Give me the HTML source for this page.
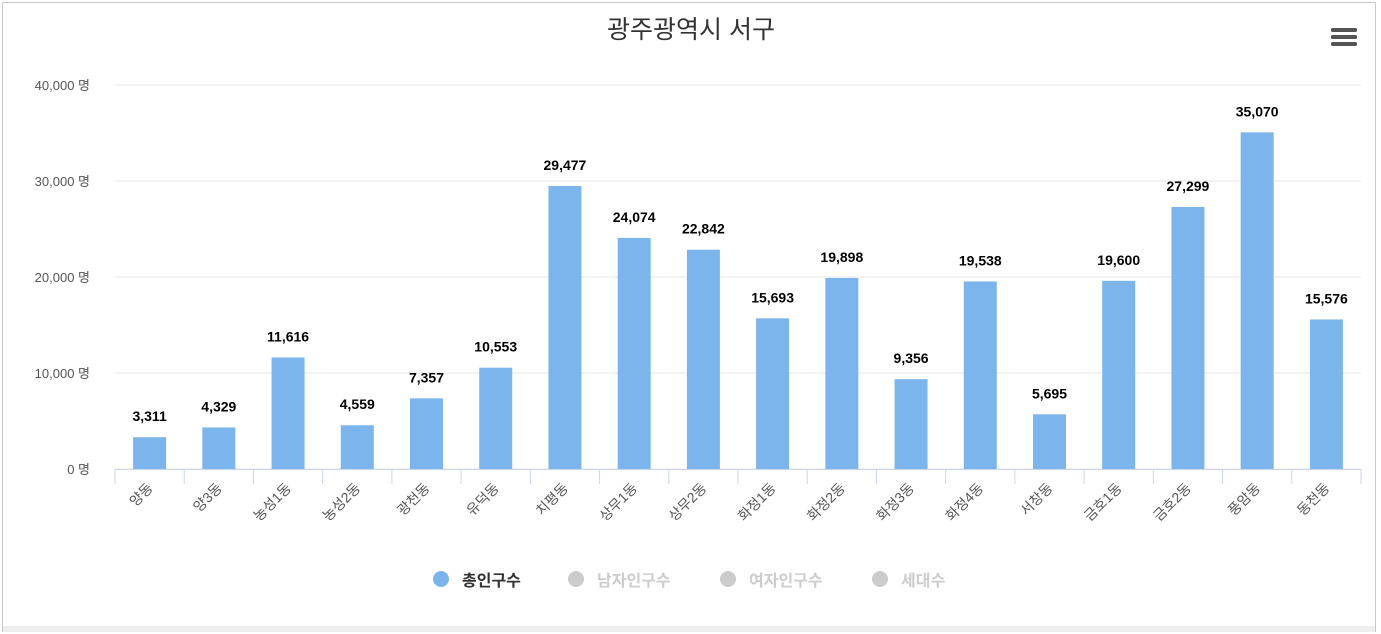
<!DOCTYPE html>
<html><head><meta charset="utf-8"><style>
body{margin:0;width:1381px;height:634px;background:#fff;overflow:hidden;font-family:"Liberation Sans","Noto Sans CJK KR",sans-serif;}
#frame{position:absolute;left:2px;top:2px;width:1374px;height:630px;border:1px solid #c8c8c8;box-sizing:border-box;}
#strip{position:absolute;left:3px;top:626px;width:1372px;height:6px;background:#eee;}
</style></head><body>
<div id="frame"></div>
<div id="strip"></div>
<svg id="chart" width="1381" height="634" style="position:absolute;left:0;top:0" font-family="Liberation Sans, Noto Sans CJK KR, sans-serif">
<text x="691" y="38" text-anchor="middle" font-size="25" fill="#333">광주광역시 서구</text>
<g>
<rect x="1331" y="28" width="26" height="4" rx="1.5" fill="#555"/><rect x="1331" y="35" width="26" height="4" rx="1.5" fill="#555"/><rect x="1331" y="42" width="26" height="4" rx="1.5" fill="#555"/>
</g>
<g id="grid"></g><g id="bars"></g><g id="xaxis"></g>
<g>
<g><circle cx="441" cy="579" r="8" fill="#7cb5ec"/><text x="462" y="586" font-size="16" font-weight="bold" fill="#333">총인구수</text></g>
<g><circle cx="576" cy="579" r="8" fill="#ccc"/><text x="597" y="586" font-size="16" font-weight="bold" fill="#ccc">남자인구수</text></g>
<g><circle cx="728" cy="579" r="8" fill="#ccc"/><text x="749" y="586" font-size="16" font-weight="bold" fill="#ccc">여자인구수</text></g>
<g><circle cx="880" cy="579" r="8" fill="#ccc"/><text x="901" y="586" font-size="16" font-weight="bold" fill="#ccc">세대수</text></g>
</g>
</svg>
<script>
const categories=["양동","양3동","농성1동","농성2동","광천동","유덕동","치평동","상무1동","상무2동","화정1동","화정2동","화정3동","화정4동","서창동","금호1동","금호2동","풍암동","동천동"];
const values=[3311,4329,11616,4559,7357,10553,29477,24074,22842,15693,19898,9356,19538,5695,19600,27299,35070,15576];
const yTicks=[0,10000,20000,30000,40000];
const NS="http://www.w3.org/2000/svg";
const x0=115,x1=1361,yB=469,yT=85,yMax=40000;
const band=(x1-x0)/categories.length;
const y=v=>yB-(v/yMax)*(yB-yT);
const xc=i=>x0+band*(i+0.5);
function mk(tag,attrs,parent,txt){const e=document.createElementNS(NS,tag);for(const k in attrs)e.setAttribute(k,attrs[k]);if(txt!==undefined)e.textContent=txt;parent.appendChild(e);return e;}
const grid=document.getElementById('grid'),bars=document.getElementById('bars'),xa=document.getElementById('xaxis');
yTicks.forEach(t=>{
 const l=mk('line',{x1:x0,x2:x1,y1:y(t),y2:y(t),stroke:'#e6e6e6','stroke-width':1},grid);
 
 
 const tx=mk('text',{x:90,y:y(t)+5,'text-anchor':'end','font-size':13,fill:'#555'},grid,t.toLocaleString('en-US')+' 명');
 
 
});
const ax=mk('line',{x1:x0,x2:x1,y1:yB+0.5,y2:yB+0.5,stroke:'#ccd6eb'},xa);


for(let i=0;i<=categories.length;i++){
 const tk=mk('line',{x1:x0+band*i,x2:x0+band*i,y1:yB,y2:yB+15,stroke:'#ccd6eb'},xa);
 
 
}
const bw=33;
values.forEach((v,i)=>{
 const r=mk('rect',{x:xc(i)-bw/2,y:y(v),width:bw,height:yB-y(v),fill:'#7cb5ec'},bars);
 
 
 const lb=mk('text',{x:xc(i),y:y(v)-16,'text-anchor':'middle','font-size':14,'font-weight':'bold',fill:'#000'},bars,v.toLocaleString('en-US'));
 
 
 const cx=xc(i)+4,cy=yB+20;
 const xl=mk('text',{x:cx,y:cy,'text-anchor':'end','font-size':14,fill:'#555',transform:`rotate(-45 ${cx} ${cy})`},xa,categories[i]);
 
 
});
</script>
</body></html>
